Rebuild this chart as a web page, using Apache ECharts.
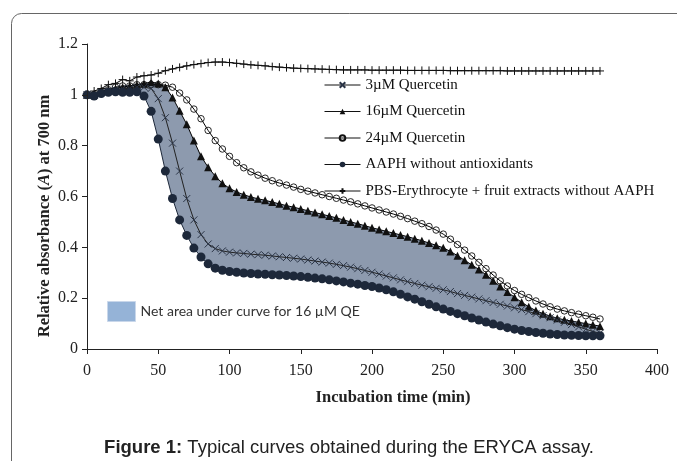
<!DOCTYPE html>
<html><head><meta charset="utf-8">
<script src="https://cdn.jsdelivr.net/npm/echarts@6/dist/echarts.min.js"></script>
<style>html,body{margin:0;padding:0;background:#fff}#c{width:677px;height:461px}</style>
</head><body><div id="c"></div>
<script>
const times = [0,5,10,15,20,25,30,35,40,45,50,55,60,65,70,75,80,85,90,95,100,105,110,115,120,125,130,135,140,145,150,155,160,165,170,175,180,185,190,195,200,205,210,215,220,225,230,235,240,245,250,255,260,265,270,275,280,285,290,295,300,305,310,315,320,325,330,335,340,345,350,355,360];

const q3 = [1.000,1.000,1.010,1.015,1.020,1.025,1.025,1.030,1.030,1.025,0.985,0.910,0.810,0.700,0.592,0.508,0.450,0.413,0.395,0.386,0.381,0.378,0.376,0.373,0.371,0.369,0.366,0.363,0.360,0.357,0.354,0.350,0.346,0.342,0.338,0.333,0.328,0.322,0.316,0.309,0.302,0.295,0.287,0.280,0.272,0.265,0.258,0.251,0.245,0.239,0.233,0.226,0.218,0.211,0.204,0.197,0.190,0.183,0.176,0.169,0.162,0.155,0.147,0.139,0.131,0.123,0.114,0.105,0.096,0.087,0.078,0.069,0.062];

const q16 = [1.000,1.000,1.015,1.020,1.025,1.030,1.035,1.040,1.045,1.050,1.045,1.030,0.990,0.937,0.884,0.820,0.758,0.715,0.680,0.652,0.632,0.618,0.607,0.598,0.591,0.585,0.578,0.571,0.564,0.558,0.551,0.544,0.537,0.530,0.523,0.516,0.508,0.500,0.493,0.485,0.477,0.470,0.463,0.456,0.449,0.442,0.434,0.426,0.417,0.408,0.398,0.384,0.367,0.349,0.331,0.313,0.292,0.269,0.246,0.224,0.204,0.184,0.166,0.151,0.139,0.129,0.121,0.115,0.110,0.105,0.100,0.095,0.090];

const q24 = [1.000,1.000,1.010,1.020,1.030,1.035,1.035,1.040,1.040,1.040,1.040,1.038,1.030,1.007,0.980,0.944,0.906,0.860,0.820,0.787,0.758,0.733,0.713,0.697,0.684,0.672,0.662,0.653,0.645,0.637,0.628,0.621,0.614,0.607,0.600,0.593,0.586,0.579,0.571,0.563,0.555,0.547,0.539,0.531,0.522,0.513,0.503,0.493,0.482,0.468,0.452,0.432,0.411,0.389,0.366,0.341,0.316,0.291,0.268,0.248,0.230,0.215,0.202,0.189,0.177,0.166,0.157,0.150,0.143,0.137,0.131,0.125,0.118];

const aaph = [1.000,0.995,1.005,1.010,1.012,1.010,1.010,1.012,0.995,0.935,0.826,0.700,0.592,0.508,0.447,0.397,0.362,0.335,0.318,0.310,0.305,0.302,0.299,0.297,0.295,0.294,0.292,0.291,0.289,0.287,0.285,0.282,0.279,0.276,0.272,0.268,0.264,0.259,0.255,0.250,0.246,0.240,0.233,0.225,0.215,0.205,0.196,0.186,0.176,0.166,0.157,0.148,0.139,0.131,0.122,0.114,0.106,0.098,0.091,0.084,0.078,0.073,0.069,0.065,0.062,0.059,0.057,0.055,0.054,0.053,0.052,0.052,0.052];

const pbs = [1.000,1.015,1.025,1.040,1.045,1.060,1.055,1.070,1.075,1.078,1.085,1.095,1.102,1.108,1.114,1.119,1.123,1.127,1.129,1.129,1.127,1.124,1.121,1.118,1.116,1.114,1.111,1.109,1.107,1.105,1.104,1.103,1.102,1.101,1.100,1.099,1.098,1.098,1.098,1.098,1.097,1.097,1.097,1.097,1.097,1.096,1.096,1.096,1.096,1.096,1.096,1.095,1.095,1.095,1.095,1.095,1.095,1.095,1.095,1.094,1.094,1.094,1.094,1.094,1.094,1.094,1.094,1.094,1.094,1.094,1.094,1.094,1.094];

const seriesNames = ['3µM Quercetin','16µM Quercetin','24µM Quercetin','AAPH without antioxidants','PBS-Erythrocyte + fruit extracts without AAPH'];
const areaName = 'Net area under curve for 16 µM QE';
const xTicks = {min:0, max:400, interval:50};
const yTicks = {min:0, max:1.2, interval:0.2};

const pairs = arr => times.map((t,i)=>[t, arr[i]]);

const serif = 'Liberation Serif';
const AREA = '#8d9aae';
const NAVY = '#1d283a';
const chart = echarts.init(document.getElementById('c'), null, {renderer:'canvas'});
const lineBase = {type:'line', showSymbol:true, animation:false, lineStyle:{color:'#000', width:1}};
chart.setOption({
  animation:false,
  backgroundColor:'#fff',
  grid:{left:87, top:44, width:570, height:305, containLabel:false},
  xAxis:{type:'value', min:xTicks.min, max:xTicks.max, interval:xTicks.interval, z:10,
    axisLine:{lineStyle:{color:'#222', width:1}}, axisTick:{length:5, lineStyle:{color:'#222'}},
    splitLine:{show:false},
    axisLabel:{fontFamily:serif, fontSize:16, color:'#222', margin:14}},
  yAxis:{type:'value', min:yTicks.min, max:yTicks.max, interval:yTicks.interval, z:10,
    axisLine:{show:true, lineStyle:{color:'#222', width:1}}, axisTick:{show:true, length:5, lineStyle:{color:'#222'}},
    splitLine:{show:false},
    axisLabel:{fontFamily:serif, fontSize:16, color:'#222', margin:9}},
  legend:[{
    orient:'vertical', left:324, top:77.5, padding:0, itemWidth:36, itemHeight:7, itemGap:11.5,
    data:seriesNames,
    lineStyle:{width:1, color:'#111'},
    textStyle:{fontFamily:serif, fontSize:15, color:'#111'},
    selectedMode:false
  },{
    orient:'vertical', left:107, top:301, padding:0, itemWidth:28, itemHeight:20,
    data:[{name:areaName, icon:'rect', itemStyle:{color:'#95b3d7', borderColor:'#c9d7ea', borderWidth:1}}],
    textStyle:{fontFamily:'Lato', fontSize:14, color:'#333'},
    selectedMode:false
  }],
  series:[
    {type:'line', name:areaName, data:pairs(q16), symbol:'none', lineStyle:{width:0, opacity:0},
      itemStyle:{color:AREA}, areaStyle:{color:AREA, opacity:1}, silent:true, z:1},
    {type:'line', name:'aaph-mask', data:pairs(aaph), symbol:'none', lineStyle:{width:0, opacity:0},
      itemStyle:{color:'#fff'}, areaStyle:{color:'#fff', opacity:1}, silent:true, z:1},
    Object.assign({}, lineBase, {name:seriesNames[2], data:pairs(q24), symbol:'circle', symbolSize:6.5,
      itemStyle:{color:'rgba(0,0,0,0)', borderColor:'#111', borderWidth:0.9}, z:3}),
    Object.assign({}, lineBase, {name:seriesNames[1], data:pairs(q16), symbol:'triangle', symbolSize:8,
      itemStyle:{color:'#111'}, z:4}),
    Object.assign({}, lineBase, {name:seriesNames[0], data:pairs(q3), symbol:'path://M0,0L10,10M0,10L10,0', symbolSize:7,
      lineStyle:{color:'#222', width:1}, itemStyle:{color:'none', borderColor:'#2a3446', borderWidth:1}, z:5}),
    Object.assign({}, lineBase, {name:seriesNames[3], data:pairs(aaph), symbol:'circle', symbolSize:9,
      lineStyle:{color:NAVY, width:1}, itemStyle:{color:NAVY}, z:6}),
    Object.assign({}, lineBase, {name:seriesNames[4], data:pairs(pbs), symbol:'path://M5,0L5,10M0,5L10,5', symbolSize:8,
      itemStyle:{color:'none', borderColor:'#111', borderWidth:1}, z:2})
  ],
  graphic:[
    {type:'rect', shape:{x:11.5, y:13.5, width:720, height:520, r:10}, style:{fill:'none', stroke:'#666', lineWidth:1}, silent:true, z:-10},
    {type:'text', x:393, y:398, style:{text:'Incubation time (min)', fontFamily:serif, fontSize:16.5, fontWeight:'bold', fill:'#222', textAlign:'center', textVerticalAlign:'middle'}},
    {type:'text', x:45, y:216, rotation:Math.PI/2, style:{text:'Relative absorbance ({i|A}) at 700 nm', fontFamily:serif, fontSize:16.5, fontWeight:'bold', fill:'#222', textAlign:'center', textVerticalAlign:'middle',
      rich:{i:{fontFamily:serif, fontSize:16.5, fontWeight:'bold', fontStyle:'italic', fill:'#222'}}}},
    {type:'text', x:349, y:448, style:{text:'{b|Figure 1:} Typical curves obtained during the ERYCA assay.', fontFamily:'Liberation Sans', fontSize:18.5, fill:'#222', textAlign:'center', textVerticalAlign:'middle',
      rich:{b:{fontFamily:'Liberation Sans', fontSize:18.5, fontWeight:'bold', fill:'#222'}}}}
  ]
});
</script></body></html>
